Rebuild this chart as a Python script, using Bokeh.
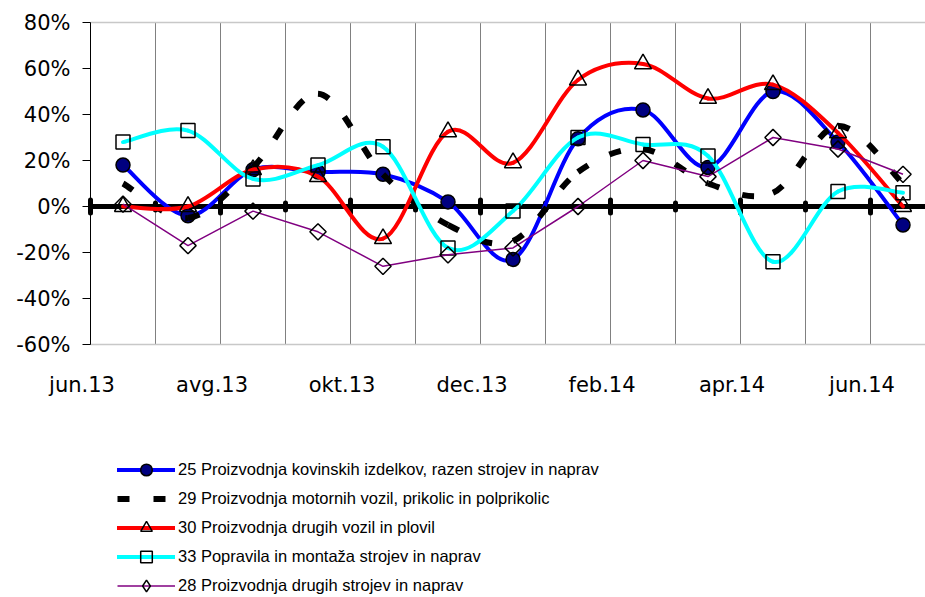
import numpy as np
from bokeh.plotting import figure
from bokeh.models import (FixedTicker, PrintfTickFormatter, Legend, LinearAxis,
                          LegendItem, Range1d, ColumnDataSource)
from bokeh.embed import file_html
from bokeh.resources import INLINE

# ---------------- data ----------------
months = ["jun.13", "jul.13", "avg.13", "sep.13", "okt.13", "nov.13", "dec.13",
          "jan.14", "feb.14", "mar.14", "apr.14", "maj.14", "jun.14"]
x_tick_labels = ["jun.13", "avg.13", "okt.13", "dec.13", "feb.14", "apr.14", "jun.14"]
y_ticks = [-60, -40, -20, 0, 20, 40, 60, 80]

series_names = [
    "25 Proizvodnja kovinskih izdelkov, razen strojev in naprav",
    "29 Proizvodnja motornih vozil, prikolic in polprikolic",
    "30 Proizvodnja drugih vozil in plovil",
    "33 Popravila in montaža strojev in naprav",
    "28 Proizvodnja drugih strojev in naprav",
]
s25 = [18, -4, 16, 15, 14, 2, -23, 29.5, 42, 17, 50, 28, -8]
s29 = [10, -5, 17, 49, 14, -8, -15, 15, 25, 10, 6, 35, 10]
s30 = [0, 0, 16, 13, -14, 32.5, 19, 55, 62, 47, 53, 32, 0]
s33 = [28, 33, 12, 18, 26, -18, -2, 30, 27, 22, -24, 6.5, 6]
s28 = [1, -17, -2, -11, -26, -21, -18, 0, 20, 13, 30, 25, 14]

# ---------------- geometry ----------------
W, H = 925, 597
PLOT_LEFT, PLOT_TOP = 90, 22          # pixel position of the plot area
PX_PER_CAT = 65.0
PX_PER_UNIT = 2.3
n = len(months)
xs = list(range(n))
Y_MIN, Y_MAX = y_ticks[0], y_ticks[-1]
X_LEFT = -0.5                          # left edge of the plot area (data)

# the frame covers the whole canvas; axes are drawn at fixed locations inside it
x_start = X_LEFT - PLOT_LEFT / PX_PER_CAT
x_end = X_LEFT + (W - PLOT_LEFT) / PX_PER_CAT
y_top = Y_MAX + PLOT_TOP / PX_PER_UNIT
y_low = y_top - H / PX_PER_UNIT

p = figure(width=W, height=H, output_backend="svg", toolbar_location=None,
           x_range=Range1d(x_start, x_end), y_range=Range1d(y_low, y_top),
           min_border_left=0, min_border_right=0, min_border_top=0, min_border_bottom=0)
p.outline_line_color = None
p.background_fill_color = "white"
p.border_fill_color = "white"
p.xaxis.visible = False
p.xgrid.visible = False
p.ygrid.visible = False

ax = p.yaxis[0]
ax.fixed_location = X_LEFT
ax.ticker = FixedTicker(ticks=y_ticks)
ax.bounds = (Y_MIN, Y_MAX)
ax.formatter = PrintfTickFormatter(format="%d%%")
ax.major_label_text_font = "DejaVu Sans"
ax.major_label_text_font_size = "21px"
ax.major_label_text_color = "black"
ax.axis_line_color = "black"
ax.axis_line_width = 1
ax.major_tick_line_color = "black"
ax.major_tick_in = 0
ax.major_tick_out = 8
ax.minor_tick_line_color = None
ax.major_label_standoff = 12

# month label axis: label k sits slightly left of boundary before category 2k
LAB_OFF = 0.13
def to_lab(u):
    return (u + 0.5 + LAB_OFF) / 2.0
lab_ticks = list(range(len(x_tick_labels)))
p.extra_x_ranges = {"lab": Range1d(to_lab(x_start), to_lab(x_end))}
xax = LinearAxis(x_range_name="lab", fixed_location=Y_MIN,
                 ticker=FixedTicker(ticks=lab_ticks),
                 bounds=(lab_ticks[0] - 0.01, lab_ticks[-1] + 0.01),
                 major_label_overrides={k: lab for k, lab in zip(lab_ticks, x_tick_labels)})
xax.axis_line_color = None
xax.major_tick_line_color = None
xax.minor_tick_line_color = None
xax.major_tick_in = 0
xax.major_tick_out = 0
xax.major_label_standoff = 28
xax.major_label_text_font = "DejaVu Sans"
xax.major_label_text_font_size = "21px"
xax.major_label_text_color = "black"
p.add_layout(xax, "below")

# vertical gridlines at category boundaries
boundaries = [i - 0.5 for i in range(n)]
p.segment(x0=boundaries, y0=[Y_MIN] * n, x1=boundaries, y1=[Y_MAX] * n,
          line_color="#808080", line_width=1)
# plot-area top / bottom borders
p.segment(x0=[X_LEFT, X_LEFT], y0=[Y_MAX, Y_MIN], x1=[x_end, x_end], y1=[Y_MAX, Y_MIN],
          line_color="#c8c8c8", line_width=1.5)
# zero axis line
p.segment(x0=[X_LEFT], y0=[0], x1=[x_end], y1=[0], line_color="black", line_width=5)

# tick blobs on zero line
maj_b = [b for k, b in enumerate(boundaries) if k % 2 == 0]
min_b = [b for k, b in enumerate(boundaries) if k % 2 == 1]
p.segment(x0=maj_b, y0=[-2.8] * len(maj_b), x1=maj_b, y1=[2.8] * len(maj_b),
          line_color="black", line_width=5, line_cap="round")
p.segment(x0=min_b, y0=[-1.5] * len(min_b), x1=min_b, y1=[1.5] * len(min_b),
          line_color="black", line_width=5, line_cap="round")


def smooth_cols(ys):
    """Bezier control points (Catmull-Rom style, as Excel's smoothed line)."""
    x = np.arange(len(ys), dtype=float)
    y = np.asarray(ys, dtype=float)
    m = len(y)
    d = dict(x0=[], y0=[], x1=[], y1=[], cx0=[], cy0=[], cx1=[], cy1=[])
    for i in range(m - 1):
        i0 = max(i - 1, 0)
        i3 = min(i + 2, m - 1)
        d["x0"].append(x[i]); d["y0"].append(y[i])
        d["x1"].append(x[i + 1]); d["y1"].append(y[i + 1])
        d["cx0"].append(x[i] + (x[i + 1] - x[i0]) / 6.0)
        d["cy0"].append(y[i] + (y[i + 1] - y[i0]) / 6.0)
        d["cx1"].append(x[i + 1] - (x[i3] - x[i]) / 6.0)
        d["cy1"].append(y[i + 1] - (y[i3] - y[i]) / 6.0)
    return ColumnDataSource(d)


BZ = dict(x0="x0", y0="y0", x1="x1", y1="y1", cx0="cx0", cy0="cy0", cx1="cx1", cy1="cy1")
items = []

# 25 - blue, navy circles
bz = p.bezier(source=smooth_cols(s25), line_color="#0000ff", line_width=4, line_cap="round", **BZ)
sc = p.scatter(xs, s25, marker="circle", size=14, fill_color="#000080",
               line_color="black", line_width=1.5)
items.append(LegendItem(label=series_names[0], renderers=[bz, sc]))

# 29 - black dashed
bz = p.bezier(source=smooth_cols(s29), line_color="black", line_width=6,
              line_dash="12 24", line_cap="butt", **BZ)
items.append(LegendItem(label=series_names[1], renderers=[bz]))

# 30 - red, triangles
bz = p.bezier(source=smooth_cols(s30), line_color="#ff0000", line_width=4, line_cap="round", **BZ)
sc = p.scatter(xs, s30, marker="triangle", size=17, fill_alpha=0,
               line_color="black", line_width=1.5)
items.append(LegendItem(label=series_names[2], renderers=[bz, sc]))

# 33 - cyan, squares
bz = p.bezier(source=smooth_cols(s33), line_color="#00ffff", line_width=4, line_cap="round", **BZ)
sc = p.scatter(xs, s33, marker="square", size=14, fill_alpha=0,
               line_color="black", line_width=1.5)
items.append(LegendItem(label=series_names[3], renderers=[bz, sc]))

# 28 - purple straight line, diamonds
ln = p.line(xs, s28, line_color="#800080", line_width=1.5)
sc = p.scatter(xs, s28, marker="square", angle=np.pi / 4, size=11.5, fill_alpha=0,
               line_color="black", line_width=1.5)
sc_leg = p.scatter(xs, s28, marker="diamond", size=16, fill_alpha=0,
                   line_color="black", line_width=1.5, visible=False)
items.append(LegendItem(label=series_names[4], renderers=[ln, sc_leg]))

legend = Legend(items=items, location=(117, -3))
legend.border_line_color = None
legend.background_fill_alpha = 0
legend.padding = 0
legend.margin = 0
legend.spacing = 0
legend.glyph_width = 58
legend.glyph_height = 29
legend.label_height = 29
legend.label_standoff = 3
legend.label_text_font = "Liberation Sans"
legend.label_text_font_size = "16.5px"
legend.label_text_color = "black"
p.add_layout(legend)

open("out.html", "w").write(file_html(p, INLINE))
